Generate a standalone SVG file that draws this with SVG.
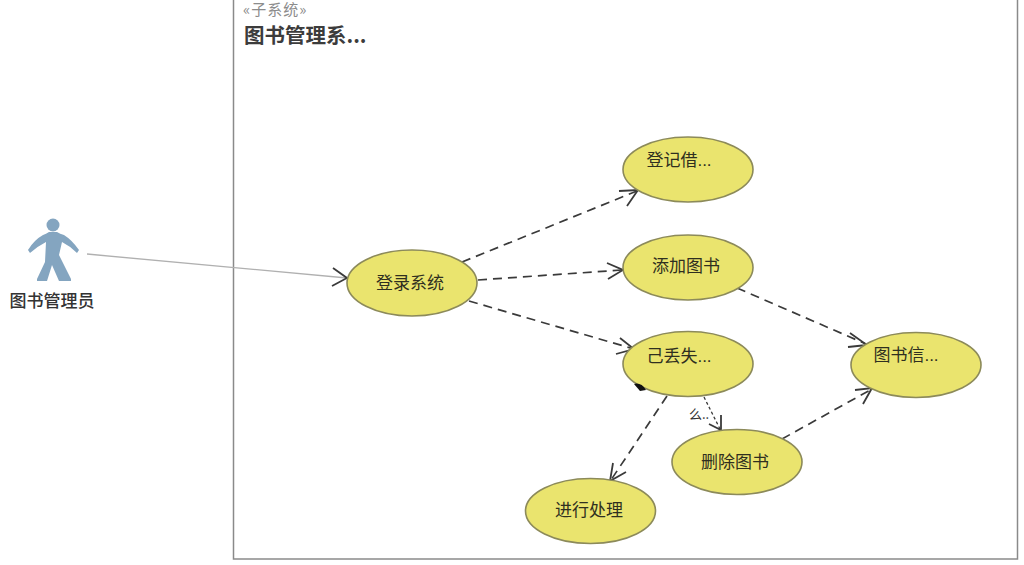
<svg xmlns="http://www.w3.org/2000/svg" width="1024" height="565" viewBox="0 0 1024 565">
<style>
text{font-family:"Noto Sans CJK SC","Liberation Sans",sans-serif;fill:#333;}
.u{fill:#eae46e;stroke:#8c8a5a;stroke-width:1.600;}
.l{font-size:17px;text-anchor:middle;fill:#2f2f20;font-family:"Liberation Sans","Noto Sans CJK SC",sans-serif;}
.d{fill:none;stroke:#3a3a3a;stroke-width:1.700;stroke-dasharray:9 6;}
.h{fill:none;stroke:#3a3a3a;stroke-width:1.800;}
</style>
<rect width="1024" height="565" fill="#fff"/>
<g id="system">
<rect x="233.500" y="-5" width="784" height="564" fill="none" stroke="#8a8a8a" stroke-width="1.500"/>
<text x="243" y="15" font-size="15" style="fill:#8c8c8c;letter-spacing:1px">«子系统»</text>
<text x="244" y="43" font-size="20.500" font-weight="700" style="fill:#3c3c3c">图书管理系...</text>
</g>
<g id="connectors">
<path d="M87 254L347 278" fill="none" stroke="#b0b0b0" stroke-width="1.300"/>
<path class="h" d="M333 268L347 278L332 286"/>
<path class="d" d="M462 262L637 191"/>
<path class="h" d="M619 191L638 190L627 206"/>
<path class="d" d="M478 280L622 270"/>
<path class="h" d="M607 263L623 270L608 279"/>
<path class="d" d="M469 301L634 349"/>
<path class="h" d="M620 338L634 349L616 354"/>
<path class="d" d="M737 288L866 344"/>
<path class="h" d="M850 333L867 345L848 347"/>
<path class="d" d="M782 439L872 389"/>
<path class="h" d="M855 390L872 388L863 404"/>
<path class="d" d="M667 396L611 480"/>
<path class="h" d="M613 463L610 481L626 472"/>
<path d="M704 397L720 429" fill="none" stroke="#3a3a3a" stroke-width="1.300" stroke-dasharray="3 2.500"/>
<path class="h" d="M709 424L721 430L721 415"/>
</g>
<g id="actor">
<circle cx="53" cy="225" r="6.500" fill="#84a5c0"/>
<path d="M49 232L57 232Q60 234 64 235Q72 240 79 250L77 253Q70 246 62 242L59 255L71 279L71 281L59 281L52 265L47 281L37 281L37 279L45 262L46 242Q38 246 30 253L28 250Q34 240 43 235Q46 234 49 232Z" fill="#84a5c0"/>
<text x="52" y="307" font-size="17" font-weight="500" text-anchor="middle">图书管理员</text>
</g>
<g id="uc-login"><ellipse class="u" cx="412" cy="283" rx="65" ry="33"/><text class="l" x="410" y="289">登录系统</text></g>
<g id="uc-borrow"><ellipse class="u" cx="688" cy="169.500" rx="65" ry="32.500"/><text class="l" x="679" y="166">登记借...</text></g>
<g id="uc-add"><ellipse class="u" cx="688" cy="267.500" rx="65" ry="32.500"/><text class="l" x="686" y="272">添加图书</text></g>
<g id="uc-lost"><ellipse class="u" cx="688" cy="364" rx="65" ry="32.500"/><text class="l" x="679" y="362">己丢失...</text><path d="M634 384Q641 382 646 390L640 391Z" fill="#111"/></g>
<g id="uc-info"><ellipse class="u" cx="916" cy="365" rx="65" ry="32.500"/><text class="l" x="906" y="361">图书信...</text></g>
<g id="uc-delete"><ellipse class="u" cx="737" cy="462" rx="65" ry="32.500"/><text class="l" x="735" y="468">删除图书</text></g>
<g id="uc-handle"><ellipse class="u" cx="590.500" cy="511" rx="65" ry="32.500"/><text class="l" x="589" y="516">进行处理</text></g>
<text x="699" y="419" font-size="13" text-anchor="middle">么..</text>
</svg>
